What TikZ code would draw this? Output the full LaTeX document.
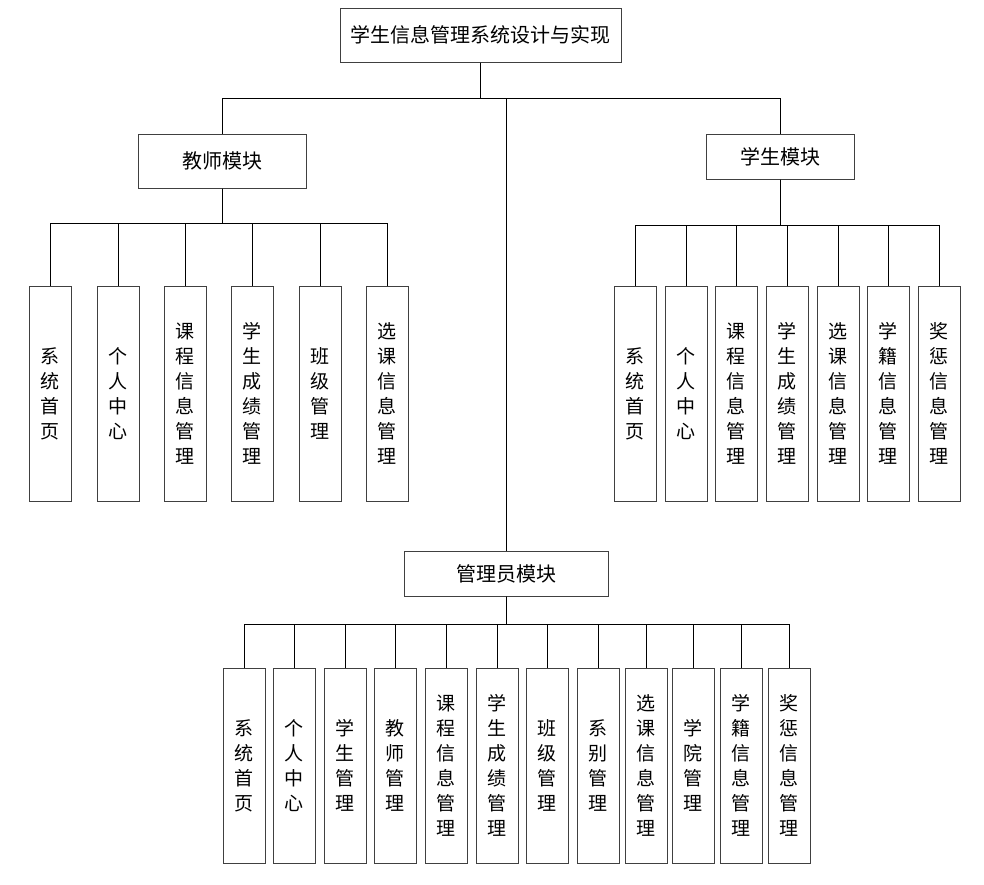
\documentclass[tikz,border=0pt]{standalone}
\usepackage{fontspec}
\setmainfont{Noto Sans CJK SC}
\usepackage{tikz}
\usetikzlibrary{positioning}

\begin{document}
\begin{tikzpicture}[x=1pt,y=-1pt,
  box/.style={draw=black!75,line width=1pt,fill=white,inner sep=0pt,align=center,font=\fontsize{20}{24}\selectfont},
  leaf/.style={draw=black!75,line width=1pt,fill=white,inner sep=0pt,minimum width=42pt,text width=20pt,align=center,font=\fontsize{19}{25}\selectfont},
  link/.style={draw=black,line width=1pt}]
\useasboundingbox (0,0) rectangle (984,884);
% top and modules
\node[box,minimum width=281pt,minimum height=54pt] (root) at (480.5,35) {学生信息管理系统设计与实现};
\node[box,minimum width=168pt,minimum height=54pt] (tch) at (222,161) {教师模块};
\node[box,minimum width=148pt,minimum height=45pt] (stu) at (780,156.5) {学生模块};
\node[box,minimum width=204pt,minimum height=45pt] (mgr) at (506,573.5) {管理员模块};
\coordinate (bus0) at (0,98);
\coordinate (bus1) at (0,223);
\coordinate (bus2) at (0,225);
\coordinate (bus3) at (0,624);
% teacher leaves
\node[leaf,minimum height=215pt] (t1) at (50,393.5) {系\\统\\首\\页};
\node[leaf,minimum height=215pt] (t2) at (118,393.5) {个\\人\\中\\心};
\node[leaf,minimum height=215pt] (t3) at (185,393.5) {课\\程\\信\\息\\管\\理};
\node[leaf,minimum height=215pt] (t4) at (252,393.5) {学\\生\\成\\绩\\管\\理};
\node[leaf,minimum height=215pt] (t5) at (320,393.5) {班\\级\\管\\理};
\node[leaf,minimum height=215pt] (t6) at (387,393.5) {选\\课\\信\\息\\管\\理};
% student leaves
\node[leaf,minimum height=215pt] (s1) at (635,393.5) {系\\统\\首\\页};
\node[leaf,minimum height=215pt] (s2) at (686,393.5) {个\\人\\中\\心};
\node[leaf,minimum height=215pt] (s3) at (736,393.5) {课\\程\\信\\息\\管\\理};
\node[leaf,minimum height=215pt] (s4) at (787,393.5) {学\\生\\成\\绩\\管\\理};
\node[leaf,minimum height=215pt] (s5) at (838,393.5) {选\\课\\信\\息\\管\\理};
\node[leaf,minimum height=215pt] (s6) at (888,393.5) {学\\籍\\信\\息\\管\\理};
\node[leaf,minimum height=215pt] (s7) at (939,393.5) {奖\\惩\\信\\息\\管\\理};
% admin leaves
\node[leaf,minimum height=195pt] (m1) at (244,765.5) {系\\统\\首\\页};
\node[leaf,minimum height=195pt] (m2) at (294,765.5) {个\\人\\中\\心};
\node[leaf,minimum height=195pt] (m3) at (345,765.5) {学\\生\\管\\理};
\node[leaf,minimum height=195pt] (m4) at (395,765.5) {教\\师\\管\\理};
\node[leaf,minimum height=195pt] (m5) at (446,765.5) {课\\程\\信\\息\\管\\理};
\node[leaf,minimum height=195pt] (m6) at (497,765.5) {学\\生\\成\\绩\\管\\理};
\node[leaf,minimum height=195pt] (m7) at (547,765.5) {班\\级\\管\\理};
\node[leaf,minimum height=195pt] (m8) at (598,765.5) {系\\别\\管\\理};
\node[leaf,minimum height=195pt] (m9) at (646,765.5) {选\\课\\信\\息\\管\\理};
\node[leaf,minimum height=195pt] (m10) at (693,765.5) {学\\院\\管\\理};
\node[leaf,minimum height=195pt] (m11) at (741,765.5) {学\\籍\\信\\息\\管\\理};
\node[leaf,minimum height=195pt] (m12) at (789,765.5) {奖\\惩\\信\\息\\管\\理};
% connectors
\foreach \c in {tch,stu,mgr}
  \path[link] (root.south) -- (root.south |- bus0) -| (\c.north);
\foreach \c in {t1,t2,t3,t4,t5,t6}
  \path[link] (tch.south) -- (tch.south |- bus1) -| (\c.north);
\foreach \c in {s1,s2,s3,s4,s5,s6,s7}
  \path[link] (stu.south) -- (stu.south |- bus2) -| (\c.north);
\foreach \c in {m1,m2,m3,m4,m5,m6,m7,m8,m9,m10,m11,m12}
  \path[link] (mgr.south) -- (mgr.south |- bus3) -| (\c.north);
\end{tikzpicture}
\end{document}
